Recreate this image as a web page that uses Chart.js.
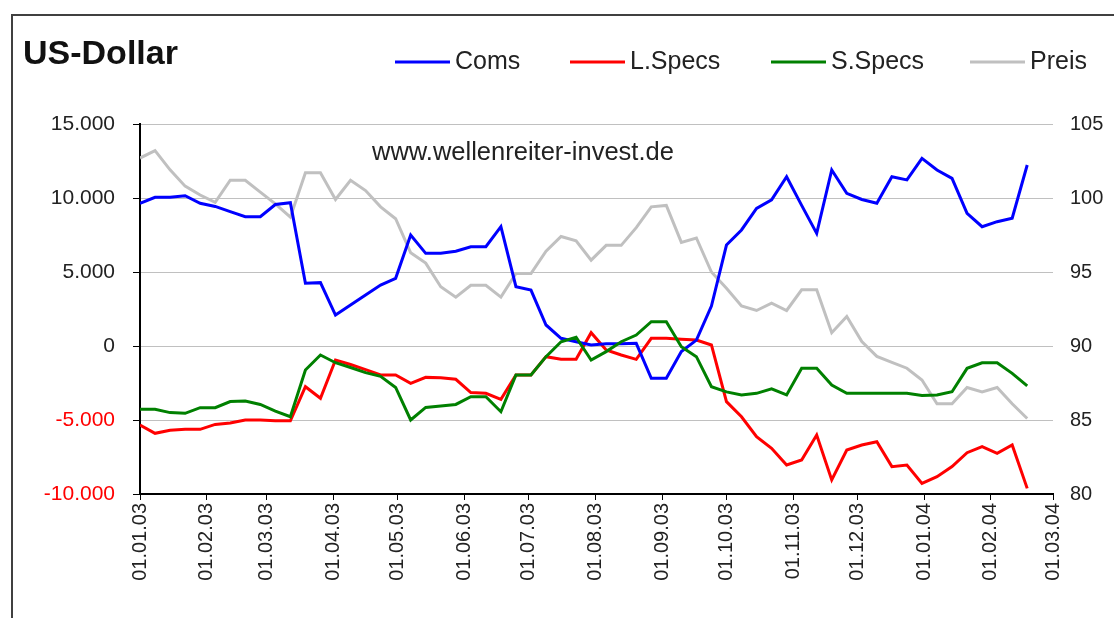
<!DOCTYPE html>
<html>
<head>
<meta charset="utf-8">
<script src="https://cdn.jsdelivr.net/npm/chart.js@4.4.1/dist/chart.umd.min.js"></script>
<style>
  html, body { margin: 0; padding: 0; background: #fff; }
  canvas { display: block; }
</style>
</head>
<body>
<canvas id="cot" width="1114" height="618"></canvas>
<script>
// US-Dollar COT positions, one report per week from 01.01.03
const tickLabels = ['01.01.03', '01.02.03', '01.03.03', '01.04.03', '01.05.03', '01.06.03', '01.07.03',
  '01.08.03', '01.09.03', '01.10.03', '01.11.03', '01.12.03', '01.01.04', '01.02.04', '01.03.04'];

const coms = [9640, 10050, 10050, 10150, 9640, 9430, 9080, 8740, 8740, 9560,
  9680, 4240, 4280, 2090, 2770, 3450, 4120, 4570, 7500, 6260,
  6260, 6400, 6710, 6710, 8060, 4010, 3780, 1420, 520, 290,
  70, 150, 150, 180, -2180, -2180, -380, 400, 2700, 6820,
  7840, 9300, 9870, 11440, 9500, 7610, 11890, 10320, 9900, 9640,
  11440, 11220, 12680, 11890, 11330, 8970, 8060, 8400, 8630, 12230];

const lSpecs = [-5340, -5900, -5700, -5630, -5630, -5300, -5200, -5000, -5000, -5050,
  -5050, -2750, -3530, -950, -1250, -1600, -1960, -1960, -2520, -2120,
  -2150, -2250, -3150, -3200, -3600, -1960, -1960, -720, -900, -900,
  900, -270, -610, -900, 520, 520, 450, 400, 70, -3760,
  -4780, -6130, -6910, -8040, -7700, -6010, -9050, -7030, -6690, -6470,
  -8150, -8040, -9280, -8830, -8150, -7210, -6800, -7250, -6690, -9620];

const sSpecs = [-4280, -4280, -4500, -4550, -4170, -4170, -3750, -3720, -3950, -4400,
  -4780, -1620, -610, -1130, -1450, -1800, -2050, -2800, -5000, -4150,
  -4050, -3950, -3430, -3430, -4440, -1960, -1960, -720, 290, 590,
  -950, -380, 290, 740, 1640, 1640, -45, -720, -2750, -3100,
  -3310, -3200, -2900, -3310, -1510, -1510, -2640, -3200, -3200, -3200,
  -3200, -3200, -3350, -3310, -3090, -1510, -1130, -1130, -1850, -2700];

const preis = [102.7, 103.2, 101.9, 100.8, 100.2, 99.7, 101.2, 101.2, 100.4, 99.6,
  98.7, 101.7, 101.7, 99.9, 101.2, 100.5, 99.4, 98.6, 96.3, 95.6,
  94.0, 93.3, 94.1, 94.1, 93.3, 94.9, 94.9, 96.4, 97.4, 97.1,
  95.8, 96.8, 96.8, 98.0, 99.4, 99.5, 97.0, 97.3, 95.0, 93.9,
  92.7, 92.4, 92.9, 92.4, 93.8, 93.8, 90.9, 92.0, 90.3, 89.3,
  88.9, 88.5, 87.7, 86.1, 86.1, 87.2, 86.9, 87.2, 86.1, 85.1];

const FONT = '"Liberation Sans", Arial, sans-serif';
const base = Date.UTC(2003, 0, 1);

// 'dd.mm.yy' -> days since 01.01.03
function dayOf(s) {
  const p = s.split('.');
  return (Date.UTC(2000 + Number(p[2]), Number(p[1]) - 1, Number(p[0])) - base) / 86400000;
}
const tickDays = tickLabels.map(dayOf);
const weeks = coms.map((v, i) => i * 7);

function pts(arr) {
  return arr.map((v, i) => ({ x: weeks[i], y: v }));
}

function deNumber(v) {
  const s = String(Math.abs(v)).replace(/\B(?=(\d{3})+(?!\d))/g, '.');
  return (v < 0 ? '-' : '') + s;
}

// frame, title, legend and the site name
const decor = {
  id: 'decor',
  afterDraw(chart) {
    const ctx = chart.ctx;
    ctx.save();
    ctx.strokeStyle = '#404040';
    ctx.lineWidth = 2;
    ctx.beginPath();
    ctx.moveTo(12, 618);
    ctx.lineTo(12, 15);
    ctx.lineTo(1114, 15);
    ctx.stroke();

    ctx.textBaseline = 'middle';
    ctx.fillStyle = '#111';
    ctx.font = 'bold 34px ' + FONT;
    ctx.fillText('US-Dollar', 23, 55);

    const starts = [395, 570, 771, 970];
    ctx.font = '25px ' + FONT;
    chart.data.datasets.forEach((ds, i) => {
      const x = starts[i];
      ctx.strokeStyle = ds.borderColor;
      ctx.lineWidth = 3;
      ctx.beginPath();
      ctx.moveTo(x, 62);
      ctx.lineTo(x + 55, 62);
      ctx.stroke();
      ctx.fillStyle = '#222';
      ctx.fillText(ds.label, x + 60, 62);
    });

    ctx.font = '25.5px ' + FONT;
    ctx.fillText('www.wellenreiter-invest.de', 372, 153);
    ctx.restore();
  }
};

new Chart(document.getElementById('cot'), {
  type: 'line',
  data: {
    datasets: [
      { label: 'Coms', data: pts(coms), borderColor: '#0000ff', yAxisID: 'y', order: 2 },
      { label: 'L.Specs', data: pts(lSpecs), borderColor: '#ff0000', yAxisID: 'y', order: 3 },
      { label: 'S.Specs', data: pts(sSpecs), borderColor: '#008000', yAxisID: 'y', order: 1 },
      { label: 'Preis', data: pts(preis), borderColor: '#c0c0c0', yAxisID: 'y1', order: 4 }
    ]
  },
  options: {
    responsive: false,
    animation: false,
    devicePixelRatio: 1,
    layout: { padding: { top: 124, left: 0, right: 0, bottom: 0 } },
    elements: {
      line: { borderWidth: 3, tension: 0, fill: false },
      point: { radius: 0 }
    },
    plugins: {
      legend: { display: false },
      tooltip: { enabled: false }
    },
    scales: {
      x: {
        type: 'linear',
        min: 0,
        max: tickDays[tickDays.length - 1],
        afterBuildTicks: s => { s.ticks = tickDays.map(v => ({ value: v })); },
        afterFit: s => { s.height = 124; },
        grid: { drawOnChartArea: false, tickLength: 6, tickColor: '#000', tickWidth: 1 },
        border: { color: '#000', width: 2 },
        ticks: {
          autoSkip: false,
          maxRotation: 90,
          minRotation: 90,
          padding: 3,
          color: '#222',
          font: { family: FONT, size: 20 },
          callback: v => tickLabels[tickDays.indexOf(v)]
        }
      },
      y: {
        position: 'left',
        min: -10000,
        max: 15000,
        afterFit: s => { s.width = 140; },
        grid: { color: '#c0c0c0', lineWidth: 1, tickLength: 7, tickColor: '#000' },
        border: { color: '#000', width: 2 },
        ticks: {
          stepSize: 5000,
          padding: 18,
          font: { family: FONT, size: 21 },
          color: c => (c.tick && c.tick.value < 0 ? '#ff0000' : '#222'),
          callback: v => deNumber(v)
        }
      },
      y1: {
        position: 'right',
        min: 80,
        max: 105,
        afterFit: s => { s.width = 61; },
        grid: { display: false, drawTicks: false },
        border: { display: false },
        ticks: {
          stepSize: 5,
          padding: 17,
          color: '#222',
          font: { family: FONT, size: 20 }
        }
      }
    }
  },
  plugins: [decor]
});
</script>
</body>
</html>
